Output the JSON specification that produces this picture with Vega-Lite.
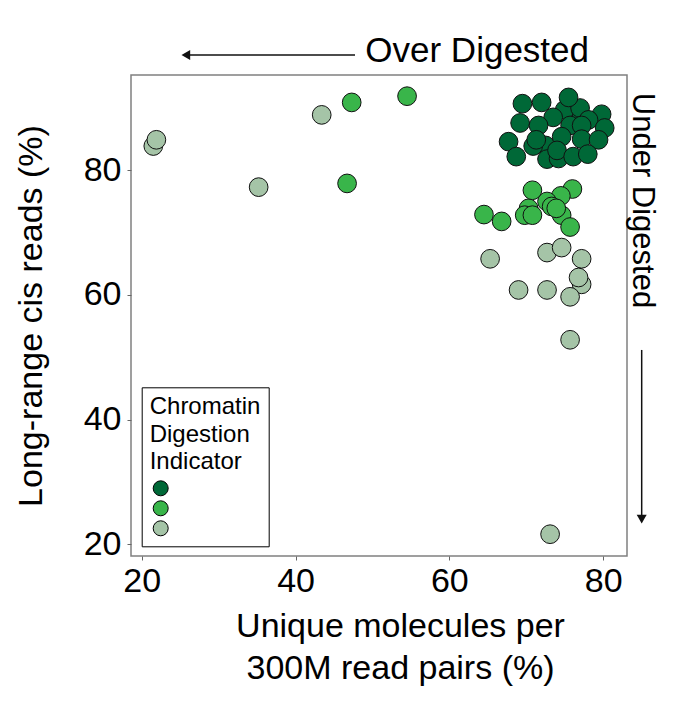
{
  "$schema": "https://vega.github.io/schema/vega-lite/v6.json",
  "autosize": {"type": "none"},
  "padding": {"left": 131, "top": 75, "right": 64, "bottom": 153},
  "width": 496,
  "height": 481,
  "background": "white",
  "config": {
    "font": "Liberation Sans",
    "view": {"stroke": "#808080", "strokeWidth": 1.5}
  },
  "layer": [
    {
      "data": {
        "values": [
          {"unique": 21.5, "cis": 83.9, "group": "Low"},
          {"unique": 21.9, "cis": 84.9, "group": "Low"},
          {"unique": 43.4, "cis": 88.9, "group": "Low"},
          {"unique": 35.2, "cis": 77.3, "group": "Low"},
          {"unique": 65.3, "cis": 65.8, "group": "Low"},
          {"unique": 72.7, "cis": 66.8, "group": "Low"},
          {"unique": 74.6, "cis": 67.6, "group": "Low"},
          {"unique": 77.2, "cis": 65.8, "group": "Low"},
          {"unique": 77.2, "cis": 61.7, "group": "Low"},
          {"unique": 76.8, "cis": 62.8, "group": "Low"},
          {"unique": 69.0, "cis": 60.8, "group": "Low"},
          {"unique": 72.7, "cis": 60.8, "group": "Low"},
          {"unique": 75.7, "cis": 59.7, "group": "Low"},
          {"unique": 75.7, "cis": 52.8, "group": "Low"},
          {"unique": 73.1, "cis": 21.6, "group": "Low"},
          {"unique": 47.3, "cis": 90.9, "group": "Mid"},
          {"unique": 54.5, "cis": 91.9, "group": "Mid"},
          {"unique": 46.7, "cis": 77.9, "group": "Mid"},
          {"unique": 64.5, "cis": 72.9, "group": "Mid"},
          {"unique": 66.8, "cis": 71.8, "group": "Mid"},
          {"unique": 76.0, "cis": 77.0, "group": "Mid"},
          {"unique": 74.5, "cis": 75.9, "group": "Mid"},
          {"unique": 72.7, "cis": 75.0, "group": "Mid"},
          {"unique": 70.3, "cis": 73.9, "group": "Mid"},
          {"unique": 69.8, "cis": 72.8, "group": "Mid"},
          {"unique": 74.6, "cis": 72.8, "group": "Mid"},
          {"unique": 73.3, "cis": 74.2, "group": "Mid"},
          {"unique": 73.9, "cis": 73.9, "group": "Mid"},
          {"unique": 70.8, "cis": 72.8, "group": "Mid"},
          {"unique": 75.7, "cis": 70.9, "group": "Mid"},
          {"unique": 70.8, "cis": 76.8, "group": "Mid"},
          {"unique": 72.5, "cis": 84.0, "group": "High"},
          {"unique": 77.2, "cis": 88.6, "group": "High"},
          {"unique": 69.5, "cis": 90.7, "group": "High"},
          {"unique": 72.0, "cis": 90.9, "group": "High"},
          {"unique": 75.0, "cis": 89.7, "group": "High"},
          {"unique": 77.0, "cis": 90.0, "group": "High"},
          {"unique": 75.5, "cis": 91.7, "group": "High"},
          {"unique": 79.8, "cis": 89.0, "group": "High"},
          {"unique": 69.2, "cis": 87.6, "group": "High"},
          {"unique": 73.5, "cis": 88.5, "group": "High"},
          {"unique": 71.6, "cis": 87.2, "group": "High"},
          {"unique": 78.1, "cis": 88.1, "group": "High"},
          {"unique": 75.7, "cis": 87.2, "group": "High"},
          {"unique": 77.2, "cis": 87.2, "group": "High"},
          {"unique": 80.2, "cis": 86.8, "group": "High"},
          {"unique": 67.7, "cis": 84.6, "group": "High"},
          {"unique": 70.9, "cis": 83.9, "group": "High"},
          {"unique": 71.3, "cis": 84.9, "group": "High"},
          {"unique": 74.6, "cis": 85.4, "group": "High"},
          {"unique": 77.2, "cis": 85.0, "group": "High"},
          {"unique": 79.4, "cis": 84.9, "group": "High"},
          {"unique": 68.7, "cis": 82.2, "group": "High"},
          {"unique": 72.7, "cis": 81.8, "group": "High"},
          {"unique": 74.2, "cis": 81.9, "group": "High"},
          {"unique": 74.0, "cis": 83.2, "group": "High"},
          {"unique": 76.1, "cis": 82.2, "group": "High"},
          {"unique": 78.0, "cis": 82.6, "group": "High"}
        ]
      },
      "mark": {"type": "point", "filled": true, "size": 350, "stroke": "#111111", "strokeWidth": 1, "opacity": 1},
      "encoding": {
        "x": {
          "field": "unique", "type": "quantitative",
          "scale": {"domain": [18.6, 83.1], "nice": false, "zero": false},
          "axis": {
            "values": [20, 40, 60, 80], "grid": false, "domain": false,
            "tickColor": "#666666", "tickSize": 4, "tickWidth": 1,
            "labelFontSize": 34, "labelColor": "black", "labelPadding": 4,
            "title": ["Unique molecules per", "300M read pairs (%)"],
            "titleFontSize": 34, "titleFontWeight": "normal", "titleColor": "black",
            "titleLineHeight": 42, "titlePadding": 11, "titleX": 269, "titleAlign": "center"
          }
        },
        "y": {
          "field": "cis", "type": "quantitative",
          "scale": {"domain": [18.1, 95.3], "nice": false, "zero": false},
          "axis": {
            "values": [20, 40, 60, 80], "grid": false, "domain": false,
            "tickColor": "#666666", "tickSize": 4, "tickWidth": 1,
            "labelFontSize": 34, "labelColor": "black", "labelPadding": 6,
            "title": "Long-range cis reads (%)",
            "titleFontSize": 34, "titleFontWeight": "normal", "titleColor": "black",
            "titlePadding": 35
          }
        },
        "color": {
          "field": "group", "type": "nominal",
          "scale": {"domain": ["High", "Mid", "Low"], "range": ["#006837", "#39b54a", "#a5c4a7"]},
          "legend": {
            "orient": "none", "legendX": 10.7, "legendY": 312.3,
            "strokeColor": "black", "fillColor": "white", "padding": 8,
            "title": ["Chromatin", "Digestion", "Indicator"],
            "titleFontSize": 24, "titleFontWeight": "normal", "titleColor": "black",
            "titleLineHeight": 27.5, "titlePadding": 6,
            "labelExpr": "''", "labelFontSize": 2,
            "symbolType": "circle", "symbolSize": 225, "symbolStrokeColor": "black",
            "symbolStrokeWidth": 1, "symbolOffset": 3, "rowPadding": 0, "symbolOpacity": 1
          }
        }
      }
    },
    {
      "data": {"values": [{}]},
      "mark": {"type": "rule", "color": "#111111", "strokeWidth": 1.5},
      "encoding": {
        "x": {"datum": 25.73, "type": "quantitative", "scale": {"domain": [18.6, 83.1], "nice": false, "zero": false}},
        "x2": {"datum": 47.73},
        "y": {"datum": 98.51, "type": "quantitative", "scale": {"domain": [18.1, 95.3], "nice": false, "zero": false}}
      }
    },
    {
      "data": {"values": [{}]},
      "mark": {"type": "point", "shape": "triangle-left", "filled": true, "size": 100, "color": "#111111", "opacity": 1},
      "encoding": {
        "x": {"datum": 25.73, "type": "quantitative", "scale": {"domain": [18.6, 83.1], "nice": false, "zero": false}},
        "y": {"datum": 98.51, "type": "quantitative", "scale": {"domain": [18.1, 95.3], "nice": false, "zero": false}}
      }
    },
    {
      "data": {"values": [{}]},
      "mark": {"type": "rule", "color": "#111111", "strokeWidth": 1.5},
      "encoding": {
        "x": {"datum": 85.01, "type": "quantitative", "scale": {"domain": [18.6, 83.1], "nice": false, "zero": false}},
        "y": {"datum": 51.17, "type": "quantitative", "scale": {"domain": [18.1, 95.3], "nice": false, "zero": false}},
        "y2": {"datum": 24.01}
      }
    },
    {
      "data": {"values": [{}]},
      "mark": {"type": "point", "shape": "triangle-down", "filled": true, "size": 100, "color": "#111111", "opacity": 1},
      "encoding": {
        "x": {"datum": 85.01, "type": "quantitative", "scale": {"domain": [18.6, 83.1], "nice": false, "zero": false}},
        "y": {"datum": 24.01, "type": "quantitative", "scale": {"domain": [18.1, 95.3], "nice": false, "zero": false}}
      }
    },
    {
      "data": {"values": [{}]},
      "mark": {"type": "text", "text": "Over Digested", "fontSize": 35, "align": "right", "baseline": "alphabetic", "color": "black"},
      "encoding": {
        "x": {"datum": 78.16, "type": "quantitative", "scale": {"domain": [18.6, 83.1], "nice": false, "zero": false}},
        "y": {"datum": 97.39, "type": "quantitative", "scale": {"domain": [18.1, 95.3], "nice": false, "zero": false}}
      }
    },
    {
      "data": {"values": [{}]},
      "mark": {"type": "text", "text": "Under Digested", "fontSize": 31, "align": "center", "baseline": "middle", "angle": 90, "color": "black"},
      "encoding": {
        "x": {"datum": 85.05, "type": "quantitative", "scale": {"domain": [18.6, 83.1], "nice": false, "zero": false}},
        "y": {"datum": 75.16, "type": "quantitative", "scale": {"domain": [18.1, 95.3], "nice": false, "zero": false}}
      }
    }
  ]
}
